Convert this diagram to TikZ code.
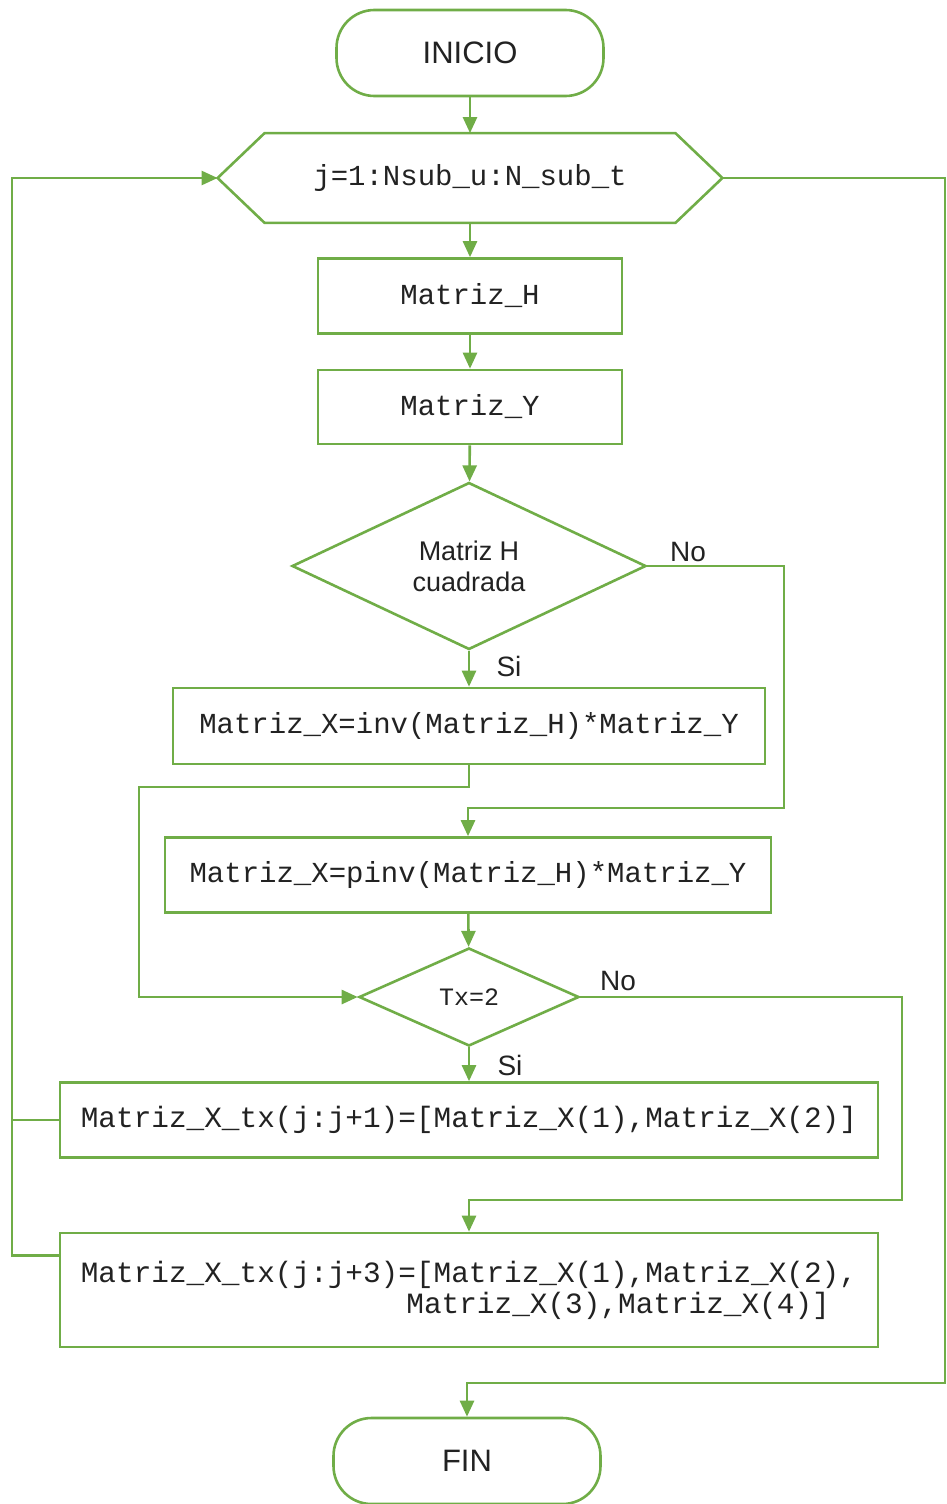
\documentclass[tikz,border=0pt]{standalone}
\usepackage{fontspec}
\setmainfont{Liberation Sans}
\setsansfont{Liberation Sans}
\setmonofont{Liberation Mono}
\usetikzlibrary{arrows.meta,shapes.geometric,calc}
\definecolor{fgreen}{HTML}{70AD47}
\definecolor{ftext}{HTML}{222222}
\tikzset{
  base/.style={draw=fgreen,line width=1.3pt,text=ftext,inner sep=0pt,fill=white},
  term/.style={base,rectangle,rounded corners=19pt,font=\fontsize{15.5}{18}\selectfont},
  proc/.style={base,rectangle,font=\ttfamily\fontsize{14.5}{17}\selectfont},
  dec/.style={base,diamond,font=\fontsize{13.5}{16.5}\selectfont,align=center},
  conn/.style={draw=fgreen,line width=1.3pt},
  arr/.style={conn,-{Triangle[length=8pt,width=7pt]}},
  lbl/.style={text=ftext,font=\fontsize{14}{16}\selectfont,inner sep=0pt}
}
\begin{document}
\begin{tikzpicture}[x=0.5pt,y=-0.5pt]
\useasboundingbox (0,0) rectangle (947,1504);
% nodes
\node[term,minimum width=133.5pt,minimum height=43pt] (inicio) at (470,53) {INICIO};
\node[inner sep=0pt,minimum width=252pt,minimum height=44.5pt,text=ftext,font=\ttfamily\fontsize{14.5}{17}\selectfont] (loop) at (470,178) {j=1:Nsub\_u:N\_sub\_t};
\draw[conn] (loop.west) -- ($(loop.north west)+(47,0)$) -- ($(loop.north east)+(-47,0)$) -- (loop.east) -- ($(loop.south east)+(-47,0)$) -- ($(loop.south west)+(47,0)$) -- cycle;
\node[proc,minimum width=152pt,minimum height=37.5pt] (mh) at (470,296) {Matriz\_H};
\node[proc,minimum width=152pt,minimum height=37pt] (my) at (470,407) {Matriz\_Y};
\node[dec,minimum width=177pt,minimum height=83.5pt] (d1) at (469,566) {Matriz H\\[-1pt]cuadrada};
\node[proc,minimum width=296pt,minimum height=38pt] (inv) at (469,726) {Matriz\_X=inv(Matriz\_H)*Matriz\_Y};
\node[proc,minimum width=303pt,minimum height=37.5pt] (pinv) at (468,875) {Matriz\_X=pinv(Matriz\_H)*Matriz\_Y};
\node[dec,minimum width=110pt,minimum height=49pt,font=\ttfamily\fontsize{12.5}{15}\selectfont] (d2) at (469,997) {Tx=2};
\node[proc,minimum width=409pt,minimum height=37.5pt,font=\ttfamily\fontsize{14.7}{17}\selectfont] (tx1) at (469,1120) {Matriz\_X\_tx(j:j+1)=[Matriz\_X(1),Matriz\_X(2)]};
\node[proc,minimum width=409pt,minimum height=57pt,font=\ttfamily\fontsize{14.7}{15.5}\selectfont,align=left] (tx3) at (469,1290) {Matriz\_X\_tx(j:j+3)=[Matriz\_X(1),Matriz\_X(2),\\\phantom{Matriz\_X\_tx(j:j+3)}\hspace*{4pt}Matriz\_X(3),Matriz\_X(4)]};
\node[term,minimum width=133.5pt,minimum height=43pt] (fin) at (467,1461) {FIN};
% helper coordinates
\coordinate (c1) at (784,808);
\coordinate (c2) at (139,787);
\coordinate (c3) at (902,1200);
\coordinate (c4) at (12,1257);
\coordinate (c5) at (945,1383);
\coordinate (t3w) at ($(tx3.north west)+(0,24)$);
% connectors
\draw[arr] (inicio) -- (loop);
\draw[arr] (loop.south) -- (mh.north);
\draw[arr] (mh) -- (my);
\draw[arr] (my) -- (d1);
\draw[arr] (d1.south) -- (inv.north);
\draw[arr] (d1.east) -| (c1) -| (pinv.north);
\draw[arr] (inv.south) |- (c2) |- (d2.west);
\draw[arr] (pinv) -- (d2);
\draw[arr] (d2.east) -| (c3) -| (tx3.north);
\draw[arr] (d2.south) -- (tx1.north);
\draw[conn] (tx1.west) -- (tx1.west -| c4);
\draw[arr] (t3w) -- (t3w -| c4) |- (loop.west);
\draw[arr] (loop.east) -| (c5) -| (fin.north);
% labels
\node[lbl] (no1) at (688,552) {No};
\node[lbl] (si1) at (509,666) {Si};
\node[lbl] (no2) at (618,981) {No};
\node[lbl] (si2) at (510,1065) {Si};
\end{tikzpicture}
\end{document}
